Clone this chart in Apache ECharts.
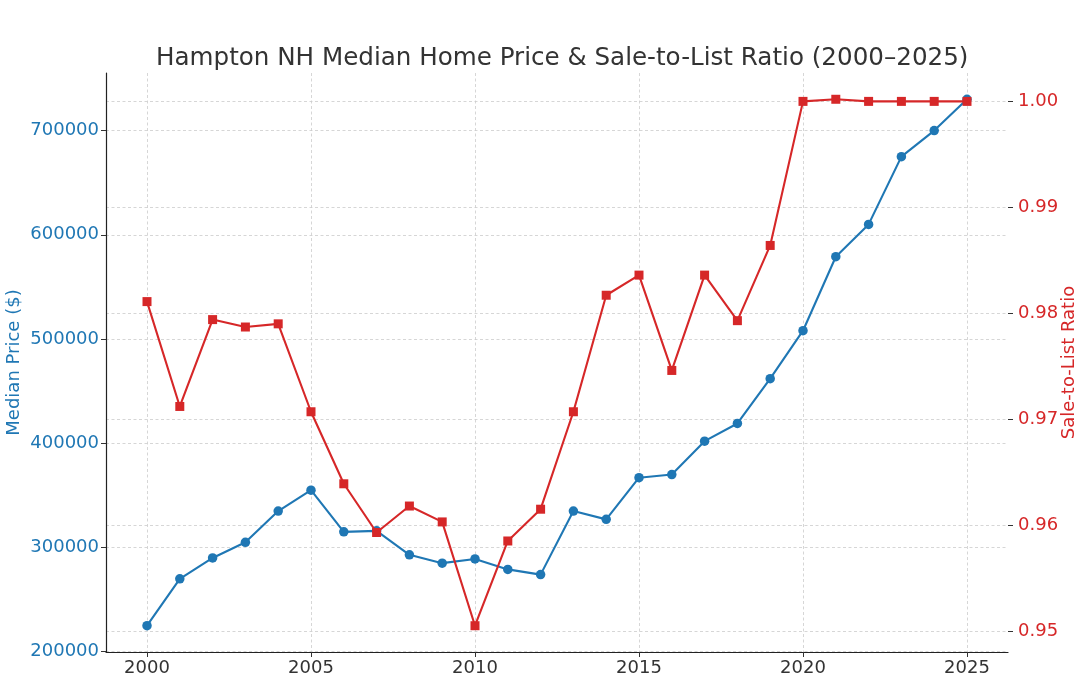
<!DOCTYPE html>
<html>
<head>
<meta charset="utf-8">
<script src="https://cdn.jsdelivr.net/npm/echarts@6/dist/echarts.min.js"></script>
<style>html,body{margin:0;padding:0;background:#fff;}#c{width:1084px;height:683px;}</style>
</head>
<body>
<div id="c"></div>
<script>
const years = [2000,2001,2002,2003,2004,2005,2006,2007,2008,2009,2010,2011,2012,2013,2014,2015,2016,2017,2018,2019,2020,2021,2022,2023,2024,2025];
const medianPrice = [225000,270000,290000,305000,335000,355000,315000,316000,293000,285000,289000,279000,274000,335000,327000,367000,370000,402000,419000,462000,508000,579000,610000,675000,700000,730000];
const saleToList = [0.9811,0.9712,0.9794,0.9787,0.9790,0.9707,0.9639,0.9593,0.9618,0.9603,0.9505,0.9585,0.9615,0.9707,0.9817,0.9836,0.9746,0.9836,0.9793,0.9864,1.0000,1.0002,1.0000,1.0000,1.0000,1.0000];
const yearTicks = [2000,2005,2010,2015,2020,2025];
const priceTicks = [200000,300000,400000,500000,600000,700000];
const ratioTicks = [0.95,0.96,0.97,0.98,0.99,1.00];

const BLUE = '#1f77b4', RED = '#d62728';
const FONT = 'DejaVu Sans';
const gridLine = {show:true, lineStyle:{color:'#cccccc', type:[3,2.5], width:0.8}};

const chart = echarts.init(document.getElementById('c'), null, {renderer:'canvas'});
chart.setOption({
  animation:false,
  backgroundColor:'#fff',
  title:{text:'Hampton NH Median Home Price & Sale-to-List Ratio (2000\u20132025)', left:151, top:41,
    textStyle:{fontFamily:FONT, fontSize:24.6, fontWeight:'normal', color:'#333'}},
  grid:{left:106, right:76, top:73, bottom:31, containLabel:false, outerBoundsMode:'none'},
  xAxis:{type:'value', min:1998.75, max:2026.25,
    axisLine:{show:true, lineStyle:{color:'#222', width:1.2}},
    axisTick:{show:true, customValues:yearTicks, length:5, lineStyle:{color:'#333'}},
    axisLabel:{customValues:yearTicks, fontFamily:FONT, fontSize:18, color:'#333', margin:7,
      formatter:v=>String(v)},
    splitLine:gridLine},
  yAxis:[
    {type:'value', position:'left', min:199750, max:755250,
      name:'Median Price ($)', nameLocation:'middle', nameGap:83, nameRotate:90, nameMoveOverlap:false,
      nameTextStyle:{fontFamily:FONT, fontSize:18, color:BLUE},
      axisLine:{show:true, lineStyle:{color:'#222', width:1.2}},
      axisTick:{show:true, customValues:priceTicks, length:5, lineStyle:{color:'#333'}},
      axisLabel:{customValues:priceTicks, fontFamily:FONT, fontSize:18, color:BLUE, margin:7,
        formatter:v=>String(v)},
      splitLine:gridLine},
    {type:'value', position:'right', min:0.94802, max:1.00268,
      name:'Sale-to-List Ratio', nameLocation:'middle', nameGap:52, nameRotate:90, nameMoveOverlap:false,
      nameTextStyle:{fontFamily:FONT, fontSize:18, color:RED},
      axisLine:{show:false},
      axisTick:{show:true, customValues:ratioTicks, length:5, lineStyle:{color:'#333'}},
      axisLabel:{customValues:ratioTicks, fontFamily:FONT, fontSize:18, color:RED, margin:10,
        formatter:v=>v.toFixed(2)},
      splitLine:gridLine}
  ],
  series:[
    {type:'line', name:'Median Price', yAxisIndex:0, data:years.map((y,i)=>[y,medianPrice[i]]),
      symbol:'circle', symbolSize:9.5, lineStyle:{color:BLUE, width:2.1}, itemStyle:{color:BLUE}, z:2},
    {type:'line', name:'Sale-to-List Ratio', yAxisIndex:1, data:years.map((y,i)=>[y,saleToList[i]]),
      symbol:'rect', symbolSize:9, lineStyle:{color:RED, width:2.1}, itemStyle:{color:RED}, z:3}
  ]
});
</script>
</body>
</html>
